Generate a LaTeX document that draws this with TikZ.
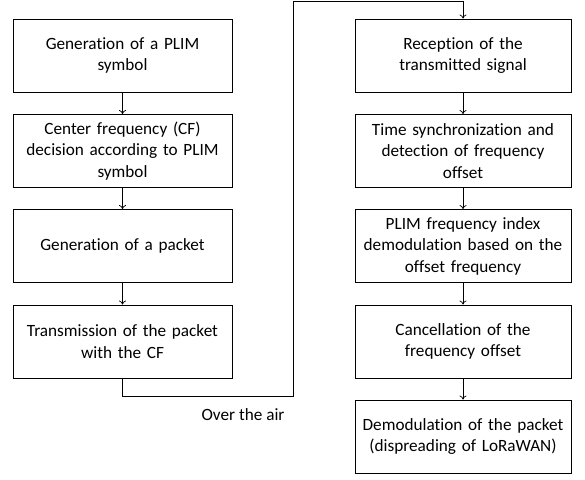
\documentclass[tikz,border=0pt]{standalone}
\usepackage{fontspec}
\setmainfont{Carlito}[RawFeature={-liga;-clig;-dlig;-calt;-hlig}]
\usetikzlibrary{arrows.meta}
\begin{document}
\begin{tikzpicture}[x=1pt,y=-1pt,
  box/.style={draw, line width=0.9pt, minimum height=73pt, align=center,
    font=\fontsize{17.2}{21.5}\selectfont, inner sep=0pt},
  lbox/.style={box, minimum width=219pt, text width=212pt},
  rbox/.style={box, minimum width=216pt, text width=210pt},
  arr/.style={-{To[length=4pt,width=7pt]}, line width=0.7pt},
  lbl/.style={font=\fontsize{17.2}{21.5}\selectfont}]
\useasboundingbox (0,0) rectangle (585,479);
\node[lbox] (b1) at (122.5,55.5) {Generation of a PLIM\\symbol};
\node[lbox] (b2) at (122.5,151) {Center frequency (CF)\\decision according to PLIM\\symbol};
\node[lbox] (b3) at (122.5,246) {Generation of a packet};
\node[lbox] (b4) at (122.5,341.5) {Transmission of the packet\\with the CF};
\node[rbox] (b5) at (463,55.5) {Reception of the\\transmitted signal};
\node[rbox] (b6) at (463,151) {Time synchronization and\\detection of frequency\\offset};
\node[rbox] (b7) at (463,246) {PLIM frequency index\\demodulation based on the\\offset frequency};
\node[rbox] (b8) at (463,341.5) {Cancellation of the\\frequency offset};
\node[rbox] (b9) at (463,436.5) {Demodulation of the packet\\(dispreading of LoRaWAN)};
\coordinate (air1) at (293,396);
\coordinate (air2) at (293,1.5);
\node[lbl] (ota) at (243,415) {Over the air};
\draw[arr] (b1) -- (b2);
\draw[arr] (b2) -- (b3);
\draw[arr] (b3) -- (b4);
\draw[arr] (b5) -- (b6);
\draw[arr] (b6) -- (b7);
\draw[arr] (b7) -- (b8);
\draw[arr] (b8) -- (b9);
\draw[arr] (b4.south) |- (air1) -- (air2) -| (b5.north);
\end{tikzpicture}
\end{document}
